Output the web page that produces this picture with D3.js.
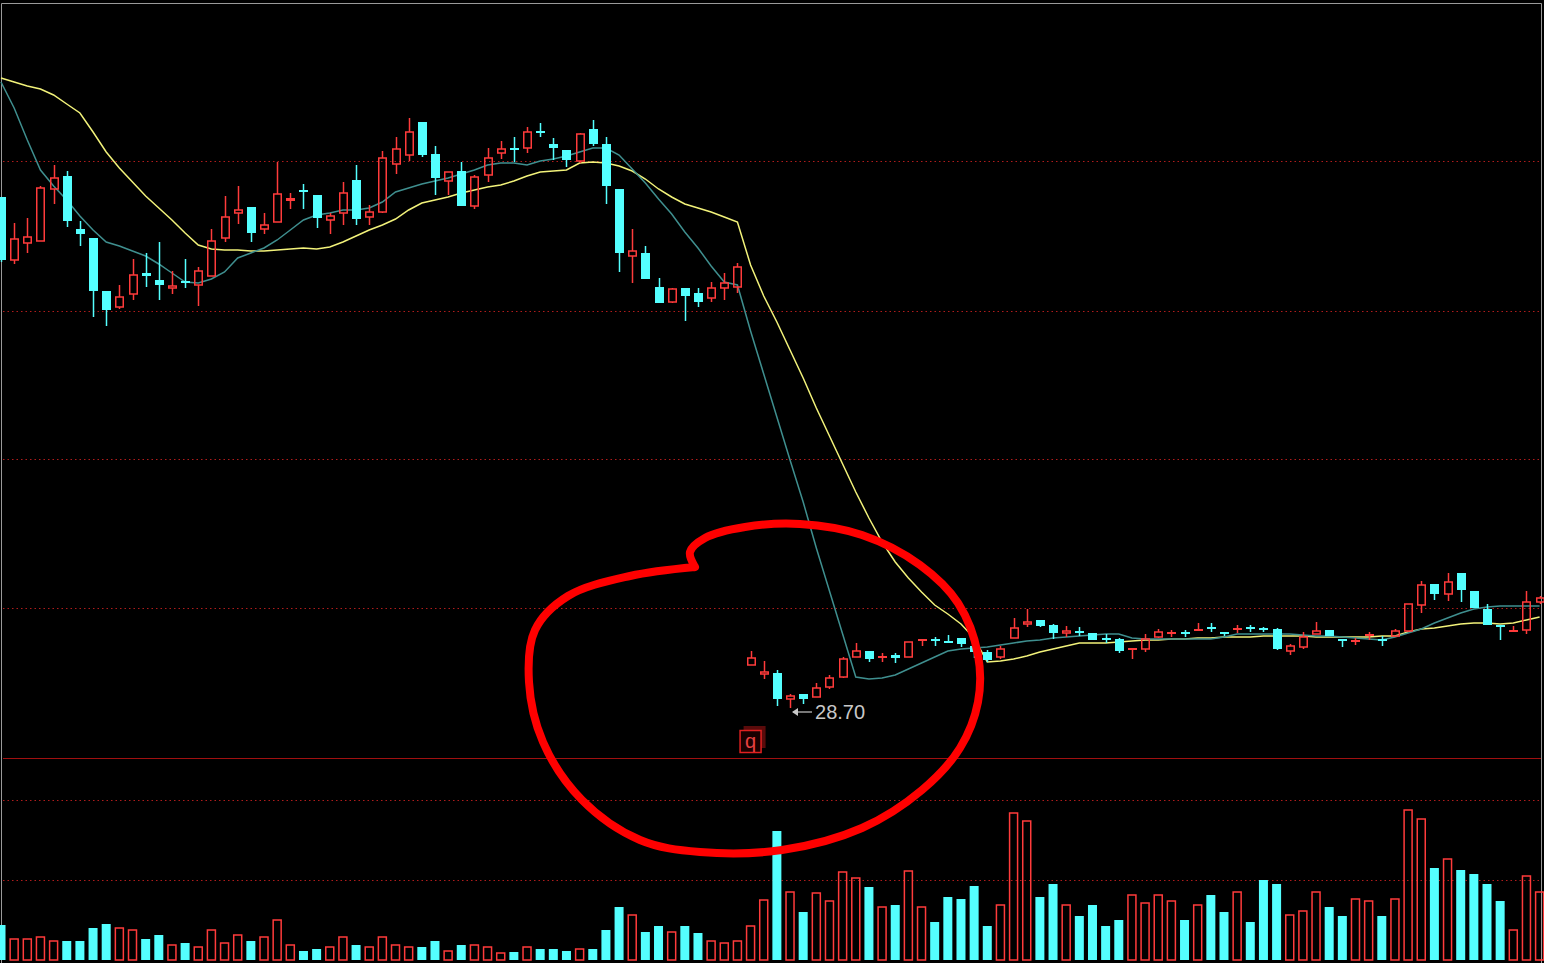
<!DOCTYPE html>
<html>
<head>
<meta charset="utf-8">
<script src="https://cdn.jsdelivr.net/npm/d3@7"></script>
<style>
  html, body { margin: 0; padding: 0; background: #000; }
  svg { display: block; }
</style>
</head>
<body>
<svg id="chart" width="1544" height="963"></svg>
<script>
const opens = [
  79.8,73.5,75.2,75.4,80.6,81.9,76.6,75.7,70.4,68.8,
  70.1,72.1,71.5,70.7,71.4,71.0,71.9,75.7,78.2,78.8,
  76.6,77.3,79.4,80.5,80.0,77.5,78.2,81.5,77.8,78.3,
  83.1,84.0,87.3,84.1,81.4,82.4,78.9,82.0,84.2,84.7,
  84.7,86.4,85.1,84.5,83.4,86.6,85.1,80.6,73.9,74.2,
  70.8,69.3,70.7,70.2,69.7,70.7,70.8,33.0,32.1,32.2,
  29.6,30.1,29.8,30.8,31.8,33.8,34.4,33.7,33.9,33.8,
  35.4,35.6,35.3,35.7,34.9,34.3,33.8,35.7,37.1,37.5,
  37.0,36.2,36.4,36.2,35.6,35.6,34.5,34.6,35.8,36.1,
  36.2,36.4,36.7,36.2,36.5,36.7,36.6,36.6,34.4,34.8,
  36.1,36.5,35.5,35.3,35.9,35.5,35.9,36.4,39.0,41.1,
  40.1,42.2,40.4,38.6,36.9,36.3,36.5,39.3
];
const closes = [
  73.5,75.6,75.8,80.7,81.7,77.4,76.1,70.4,68.5,69.8,
  72.0,71.9,71.0,70.9,71.2,72.4,75.4,77.8,78.5,76.2,
  77.0,80.1,79.6,80.3,77.7,77.9,80.2,77.6,78.3,83.7,
  84.6,86.3,84.0,81.7,82.3,78.9,81.8,83.7,84.6,84.5,
  86.3,86.2,84.7,83.5,86.1,85.1,80.9,74.2,74.4,71.6,
  69.2,70.6,69.9,69.3,70.7,71.2,72.8,33.7,32.3,29.6,
  29.9,29.6,30.7,31.7,33.6,34.4,33.6,33.8,33.7,35.3,
  35.5,35.4,35.2,35.1,34.3,33.5,34.6,36.7,37.3,36.9,
  36.2,36.4,36.2,35.5,35.5,34.4,34.6,35.6,36.3,36.2,
  36.1,36.5,36.6,36.1,36.6,36.6,36.5,34.6,34.9,35.8,
  36.4,35.9,35.4,35.4,36.0,35.4,36.4,39.1,41.0,40.1,
  41.3,40.5,38.7,37.0,36.8,36.4,39.3,39.7
];
const highs = [
  79.8,77.2,77.7,80.9,83.0,82.4,77.4,75.7,70.4,71.0,
  73.6,74.2,75.3,72.4,73.6,72.8,76.6,79.9,80.9,78.8,
  78.2,83.3,80.2,81.1,80.0,78.2,81.3,83.0,79.0,84.4,
  85.8,87.7,87.3,84.9,82.3,83.3,82.0,84.7,85.4,85.8,
  86.8,87.2,85.7,84.5,86.2,87.5,85.8,80.6,76.6,74.9,
  71.7,70.7,70.7,70.7,71.3,72.2,73.2,34.4,33.4,32.5,
  30.1,30.1,31.2,32.0,33.8,35.2,34.4,34.2,34.2,35.3,
  35.6,35.8,36.0,35.7,35.1,34.5,34.9,37.7,38.6,37.5,
  37.1,36.9,36.8,36.2,36.1,35.7,34.6,36.1,36.6,36.5,
  36.5,37.2,37.2,36.3,37.0,37.0,36.8,36.7,35.1,36.3,
  37.3,36.5,35.5,35.7,36.3,35.9,36.6,39.1,41.4,41.1,
  42.2,42.2,40.4,39.1,36.9,36.9,40.4,39.9
];
const lows = [
  73.3,73.1,74.2,75.4,79.1,76.8,74.9,67.8,66.9,68.6,
  69.5,70.8,69.5,70.1,70.7,68.9,71.9,75.3,77.1,75.3,
  76.1,77.3,78.6,78.6,76.7,76.1,77.0,77.0,77.0,78.2,
  82.1,83.4,83.8,80.0,80.0,78.9,78.6,81.3,83.6,83.3,
  84.2,85.8,83.5,82.8,83.2,84.9,79.1,72.3,71.2,71.6,
  69.2,69.2,67.4,68.8,69.3,69.5,70.2,33.0,31.6,28.9,
  28.7,29.1,29.8,30.6,31.7,33.8,33.3,33.3,33.2,33.8,
  34.9,34.9,35.2,34.8,33.7,33.3,33.6,35.7,36.8,36.8,
  35.6,35.8,35.9,35.5,35.2,34.2,33.6,34.3,35.7,35.8,
  35.8,36.4,36.3,35.9,36.2,36.3,36.3,34.5,34.0,34.6,
  36.1,35.9,34.8,35.0,35.5,34.9,35.8,36.3,38.2,39.5,
  39.4,39.3,38.7,37.0,35.5,36.3,36.1,39.1
];
const volumes = [
  35,21,21,23,19,19,19,32,36,32,
  30,21,25,15,17,13,30,17,25,19,
  23,40,15,9,11,13,23,15,13,23,
  15,13,13,19,9,15,15,13,7,8,
  13,11,11,9,11,11,30,53,45,28,
  34,28,34,27,19,17,19,34,60,129,
  68,48,67,59,88,82,73,53,55,89,
  53,38,63,61,74,34,55,147,139,63,
  76,55,44,55,34,40,65,57,65,59,
  40,55,65,48,68,38,80,76,45,49,
  68,53,44,61,59,44,61,150,141,92,
  101,90,86,76,59,30,84,68
];
const maShort = [
  91.3,88.7,85.5,82.5,80.9,79.5,77.9,76.5,75.3,74.9,
  74.4,73.9,73.1,72.2,71.3,71.2,71.6,72.3,73.7,74.2,
  74.7,75.5,76.5,77.5,78.0,78.2,78.5,78.5,78.7,79.3,
  80.3,80.7,81.1,81.4,81.7,82.1,82.5,83.0,83.2,83.2,
  83.0,83.4,83.6,83.9,84.3,84.7,84.7,84.0,82.6,81.2,
  79.6,78.1,76.3,74.7,72.9,71.3,71.0,66.4,62.1,57.8,
  53.5,49.3,44.7,40.4,36.1,31.8,31.6,31.7,32.0,32.6,
  33.2,33.8,34.4,34.6,34.7,34.8,35.0,35.2,35.4,35.5,
  35.7,35.8,35.9,36.0,36.1,36.1,35.7,35.6,35.6,35.6,
  35.6,35.6,35.6,35.8,36.1,36.1,36.1,36.1,36.1,36.0,
  35.9,35.9,35.8,35.7,35.6,35.5,35.8,36.2,36.6,37.2,
  37.7,38.2,38.6,38.8,38.9,38.9,38.9,38.9
];
const maLong = [
  91.7,91.3,90.9,90.6,90.0,89.1,88.2,86.3,84.3,82.7,
  81.3,79.9,78.7,77.5,76.2,75.0,74.6,74.5,74.5,74.4,
  74.4,74.5,74.6,74.7,74.6,74.8,75.3,75.9,76.5,77.0,
  77.6,78.5,79.2,79.5,79.8,80.2,80.5,80.8,81.0,81.4,
  81.9,82.3,82.4,82.5,83.2,83.3,83.2,82.9,82.4,81.6,
  80.6,79.8,79.1,78.7,78.3,77.8,77.3,73.0,69.9,67.3,
  64.5,61.7,58.7,55.9,53.1,50.3,47.7,45.3,43.3,41.7,
  40.3,39.0,38.1,37.1,35.7,33.3,33.4,33.6,33.9,34.3,
  34.6,34.9,35.2,35.2,35.2,35.3,35.4,35.5,35.5,35.6,
  35.6,35.7,35.7,35.8,35.8,35.8,35.9,35.9,35.9,35.9,
  35.8,35.8,35.8,35.8,35.8,35.9,35.9,36.3,36.6,36.7,
  36.9,37.1,37.2,37.2,37.1,37.2,37.5,37.8
];
const priceGrid = [83.4, 68.4, 53.6, 38.7];
const volumeGrid = [80, 160];
const lowLabel = "28.70";
const lowIndex = 60;
const exRightsIndex = 57;

const UP = "#ff3b3b", DOWN = "#54ffff";
const svg = d3.select("#chart");
const n = opens.length;

const x = d3.scaleLinear().domain([0, n - 1]).range([1, 1539.6]);
const y = d3.scaleLinear().domain([99.5, 23.7]).range([0, 758]);
const yv = d3.scaleLinear().domain([0, 160]).range([960, 800]);
const bw = 9;

svg.append("rect").attr("width", 1544).attr("height", 963).attr("fill", "#000");

// grid
const grid = svg.append("g").attr("stroke", "#b01c1c").attr("stroke-dasharray", "1.5,3");
grid.selectAll("line.p").data(priceGrid).join("line")
  .attr("x1", 3).attr("x2", 1541)
  .attr("y1", d => Math.round(y(d)) + 0.5).attr("y2", d => Math.round(y(d)) + 0.5);
grid.selectAll("line.v").data(volumeGrid).join("line")
  .attr("x1", 3).attr("x2", 1541)
  .attr("y1", d => Math.round(yv(d)) + 0.5).attr("y2", d => Math.round(yv(d)) + 0.5);
svg.append("line").attr("x1", 3).attr("x2", 1541).attr("y1", 758.5).attr("y2", 758.5)
  .attr("stroke", "#a01010");

// frame
svg.append("path").attr("d", "M1.5,963V3.5H1541.5V963").attr("fill", "none").attr("stroke", "#9a9a9a");

const plot = svg.append("g");

// volume
const idx = d3.range(n);
const isUp = i => closes[i] >= opens[i];
plot.selectAll("rect.vol").data(idx).join("rect")
  .attr("x", i => x(i) - bw / 2 + (isUp(i) ? 0.5 : 0))
  .attr("y", i => yv(volumes[i]))
  .attr("width", i => isUp(i) ? bw - 1 : bw)
  .attr("height", i => yv(0) - yv(volumes[i]))
  .attr("fill", i => isUp(i) ? "none" : DOWN)
  .attr("stroke", i => isUp(i) ? UP : "none")
  .attr("stroke-width", 1.5);

// MA lines
const line = d3.line().x((d, i) => x(i)).y(d => y(d));
plot.append("path").datum(maLong).attr("d", line)
  .attr("fill", "none").attr("stroke", "#f2f27a").attr("stroke-width", 1.5);
plot.append("path").datum(maShort).attr("d", line)
  .attr("fill", "none").attr("stroke", "#3f8f8f").attr("stroke-width", 1.5);

// candles
const c = plot.selectAll("g.candle").data(idx).join("g");
c.each(function(i) {
  const g = d3.select(this);
  const cx = Math.round(x(i)) + 0.5;
  const top = y(Math.max(opens[i], closes[i]));
  const bot = y(Math.min(opens[i], closes[i]));
  const col = isUp(i) ? UP : DOWN;
  g.append("line").attr("x1", cx).attr("x2", cx).attr("y1", y(highs[i])).attr("y2", top)
    .attr("stroke", col).attr("stroke-width", 1.5);
  g.append("line").attr("x1", cx).attr("x2", cx).attr("y1", bot).attr("y2", y(lows[i]))
    .attr("stroke", col).attr("stroke-width", 1.5);
  if (bot - top < 2) {
    g.append("rect").attr("x", cx - bw / 2).attr("y", top - 1).attr("width", bw)
      .attr("height", Math.max(2, bot - top + 1)).attr("fill", col);
  } else if (isUp(i)) {
    g.append("rect").attr("x", cx - bw / 2 + 0.75).attr("y", top).attr("width", bw - 1.5)
      .attr("height", bot - top).attr("fill", "none").attr("stroke", col).attr("stroke-width", 1.5);
  } else {
    g.append("rect").attr("x", cx - bw / 2).attr("y", top).attr("width", bw)
      .attr("height", bot - top).attr("fill", col);
  }
});

// low marker
const lx = x(lowIndex), ly = y(lows[lowIndex]) + 4;
svg.append("line").attr("x1", lx + 3).attr("x2", lx + 22).attr("y1", ly).attr("y2", ly)
  .attr("stroke", "#c8c8c8").attr("stroke-width", 1.2);
svg.append("path").attr("d", `M${lx + 2},${ly}l6,-4v8z`).attr("fill", "#c8c8c8");
svg.append("text").attr("x", lx + 25).attr("y", ly + 7).text(lowLabel)
  .attr("fill", "#c8c8c8").attr("font-family", "Liberation Sans, Arial, sans-serif").attr("font-size", 20);

// ex-rights marker
const qx = x(exRightsIndex) - 11, qy = 730;
svg.append("rect").attr("x", qx + 4).attr("y", qy - 4).attr("width", 22).attr("height", 22).attr("fill", "#5a0b0b");
svg.append("rect").attr("x", qx + 0.5).attr("y", qy + 0.5).attr("width", 21).attr("height", 22)
  .attr("fill", "#1a0000").attr("stroke", "#e02020").attr("stroke-width", 1.5);
svg.append("text").attr("x", qx + 11).attr("y", qy + 18).attr("text-anchor", "middle").text("q")
  .attr("fill", "#e84040").attr("font-family", "Liberation Sans, Arial, sans-serif").attr("font-size", 20);

// hand-drawn circle annotation
const ring = [[695,567],[690,552],[705,538],[745,527],[800,524],[862,535],[920,565],[958,603],
  [978,655],[978,702],[960,748],[922,790],[862,828],[782,850],[700,852],[640,840],[582,800],
  [543,742],[529,682],[535,630],[568,596],[630,576],[695,567]];
svg.append("path").attr("d", d3.line().curve(d3.curveCatmullRom)(ring))
  .attr("fill", "none").attr("stroke", "#ff0000").attr("stroke-width", 8).attr("stroke-linecap", "round");
</script>
</body>
</html>
